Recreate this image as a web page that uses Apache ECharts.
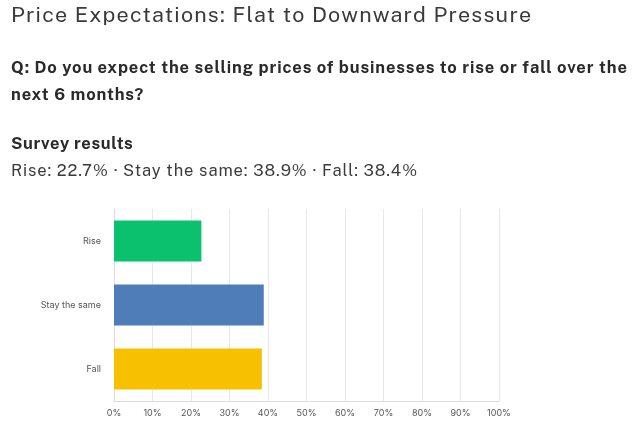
<!DOCTYPE html>
<html>
<head>
<meta charset="utf-8">
<script src="https://cdn.jsdelivr.net/npm/echarts@6/dist/echarts.min.js"></script>
<style>
  html, body { margin: 0; padding: 0; background: #fff; }
  body { width: 637px; height: 429px; overflow: hidden; font-family: "Public Sans", "Inter", "Open Sans", sans-serif; color: #333; }
  .title { position: absolute; left: 11px; top: 2px; font-size: 21.5px; letter-spacing: 1.25px; color: #3a3a3a; white-space: nowrap; font-weight: 400; }
  .q { position: absolute; left: 11px; top: 54px; font-size: 16.5px; font-weight: 700; line-height: 27px; letter-spacing: 0.88px; color: #2a2a2a; width: 626px; }
  .sub { position: absolute; left: 11px; top: 133px; font-size: 16.5px; font-weight: 700; letter-spacing: 0.6px; color: #2a2a2a; }
  .res { position: absolute; left: 11px; top: 160px; font-size: 16.5px; letter-spacing: 0.9px; color: #3a3a3a; white-space: nowrap; }
  #main { position: absolute; left: 0; top: 0; width: 637px; height: 429px; }
</style>
</head>
<body>
<div id="main"></div>
<div class="title">Price Expectations: Flat to Downward Pressure</div>
<div class="q">Q: Do you expect the selling prices of businesses to rise or fall over the next 6 months?</div>
<div class="sub">Survey results</div>
<div class="res">Rise: 22.7% · Stay the same: 38.9% · Fall: 38.4%</div>
<script>
// 选项与数值
var categories = ['Rise', 'Stay the same', 'Fall'];
var values = [22.7, 38.9, 38.4];
var barColors = ['#0cc16e', '#4f7db8', '#f7c000'];

var myChart = echarts.init(document.getElementById('main'));
myChart.setOption({
    animation: false,
    grid: { left: 114, right: 138, top: 209, bottom: 28 },
    xAxis: {
        type: 'value',
        min: 0,
        max: 100,
        interval: 10,
        axisLine: { show: true, lineStyle: { color: '#dcdcdc' } },
        axisTick: { show: false },
        splitLine: { show: true, lineStyle: { color: '#e8e8e8' } },
        axisLabel: { formatter: '{value}%', color: '#555', fontSize: 9, fontFamily: 'Inter', margin: 8 }
    },
    yAxis: {
        type: 'category',
        inverse: true,
        data: categories,
        axisLine: { show: true, lineStyle: { color: '#dcdcdc' } },
        axisTick: { show: false },
        axisLabel: { color: '#555', fontSize: 9, fontFamily: 'Inter', margin: 13 }
    },
    series: [{
        type: 'bar',
        barWidth: '64%',
        data: values.map(function (v, i) {
            return { value: v, itemStyle: { color: barColors[i] } };
        })
    }]
});
</script>
</body>
</html>
